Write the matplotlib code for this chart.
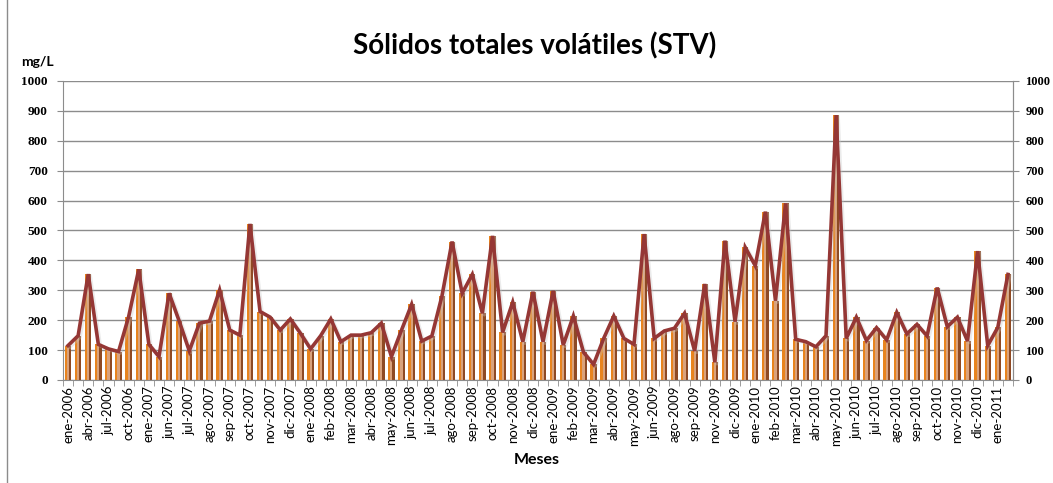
import matplotlib.pyplot as plt
import numpy as np

# Datos: sólidos totales volátiles (mg/L)
etiquetas = ['ene-2006', 'abr-2006', 'jul-2006', 'oct-2006', 'ene-2007', 'jun-2007',
             'jul-2007', 'ago-2007', 'sep-2007', 'oct-2007', 'nov-2007', 'dic-2007',
             'ene-2008', 'feb-2008', 'mar-2008', 'abr-2008', 'may-2008', 'jun-2008',
             'jul-2008', 'ago-2008', 'sep-2008', 'oct-2008', 'nov-2008', 'dic-2008',
             'ene-2009', 'feb-2009', 'mar-2009', 'abr-2009', 'may-2009', 'jun-2009',
             'ago-2009', 'sep-2009', 'nov-2009', 'dic-2009', 'ene-2010', 'feb-2010',
             'mar-2010', 'abr-2010', 'may-2010', 'jun-2010', 'jul-2010', 'ago-2010',
             'sep-2010', 'oct-2010', 'nov-2010', 'dic-2010', 'ene-2011']

stv = [115, 148, 354, 119, 104, 95, 212, 370, 119, 78,
       290, 197, 97, 190, 197, 301, 167, 150, 522, 229,
       210, 167, 204, 156, 104, 148, 204, 128, 150, 150,
       158, 190, 78, 167, 253, 130, 147, 281, 463, 290,
       353, 223, 482, 159, 260, 128, 295, 128, 298, 117,
       214, 93, 52, 139, 214, 139, 119, 488, 139, 164,
       173, 223, 97, 321, 59, 466, 195, 444, 382, 563,
       265, 591, 136, 128, 111, 148, 886, 139, 210, 132,
       175, 134, 226, 154, 186, 147, 309, 178, 210, 130,
       431, 115, 176, 353]

x = np.arange(len(stv))

fig = plt.figure(figsize=(10.53, 4.83), dpi=100)
ax = fig.add_axes([0.0598, 0.2133, 0.9022, 0.6190])

# barras con efecto de degradado (tres franjas)
w = 0.21
ax.bar(x - w, stv, w, color='#e8841e', zorder=2, linewidth=0)
ax.bar(x, stv, w, color='#d9a27c', zorder=2, linewidth=0)
ax.bar(x + w, stv, w, color='#8e4a24', zorder=2, linewidth=0)

# línea con sombra suave
ax.plot(x + 0.2, np.array(stv) - 5, color='#c8c8c8', lw=2.5, alpha=0.35, zorder=3)
ax.plot(x, stv, color='#953735', lw=2.6, zorder=4, solid_joinstyle='miter')

ax.set_xlim(-0.5, len(stv) - 0.5)
ax.set_ylim(0, 1000)
ax.set_yticks(np.arange(0, 1001, 100))
ax.yaxis.grid(True, color='#8c8c8c', lw=1)
ax.set_axisbelow(True)

ax.set_xticks(x[::2])
ax.set_xticklabels(etiquetas, rotation=90, fontsize=9.5, family='Lato')
ax.set_xticks(np.arange(-0.5, len(stv), 1), minor=True)
ax.tick_params(axis='x', which='major', length=0, pad=4)
ax.tick_params(axis='x', which='minor', length=4, color='#8c8c8c')
ax.tick_params(axis='y', length=4, color='#8c8c8c', pad=7)
for lab in ax.get_yticklabels():
    lab.set_fontweight('bold')
    lab.set_fontsize(9.5)
    lab.set_family('Liberation Serif')

ax.spines['top'].set_visible(False)
for s in ['left', 'right', 'bottom']:
    ax.spines[s].set_color('#8c8c8c')

# eje derecho duplicado
ax2 = ax.twinx()
ax2.set_ylim(0, 1000)
ax2.set_yticks(np.arange(0, 1001, 100))
ax2.tick_params(axis='y', length=4, color='#8c8c8c', pad=5)
for lab in ax2.get_yticklabels():
    lab.set_fontweight('bold')
    lab.set_fontsize(9)
    lab.set_family('Liberation Serif')
for s in ['top', 'left', 'bottom']:
    ax2.spines[s].set_visible(False)
ax2.spines['right'].set_color('#8c8c8c')

fig.text(0.508, 0.905, 'Sólidos totales volátiles (STV)', ha='center', va='center',
         fontsize=20, fontweight='bold', family='Lato')
fig.text(0.036, 0.872, 'mg/L', ha='center', va='center', fontsize=10,
         fontweight='bold', family='Lato')
fig.text(0.51, 0.047, 'Meses', ha='center', va='center', fontsize=11.5,
         fontweight='bold', family='Lato')

# marco del gráfico
fig.add_artist(plt.Line2D([0.0066, 0.0066], [0.0, 1.0], color='#8c8c8c', lw=1))

fig.savefig('out.png', dpi=100)
